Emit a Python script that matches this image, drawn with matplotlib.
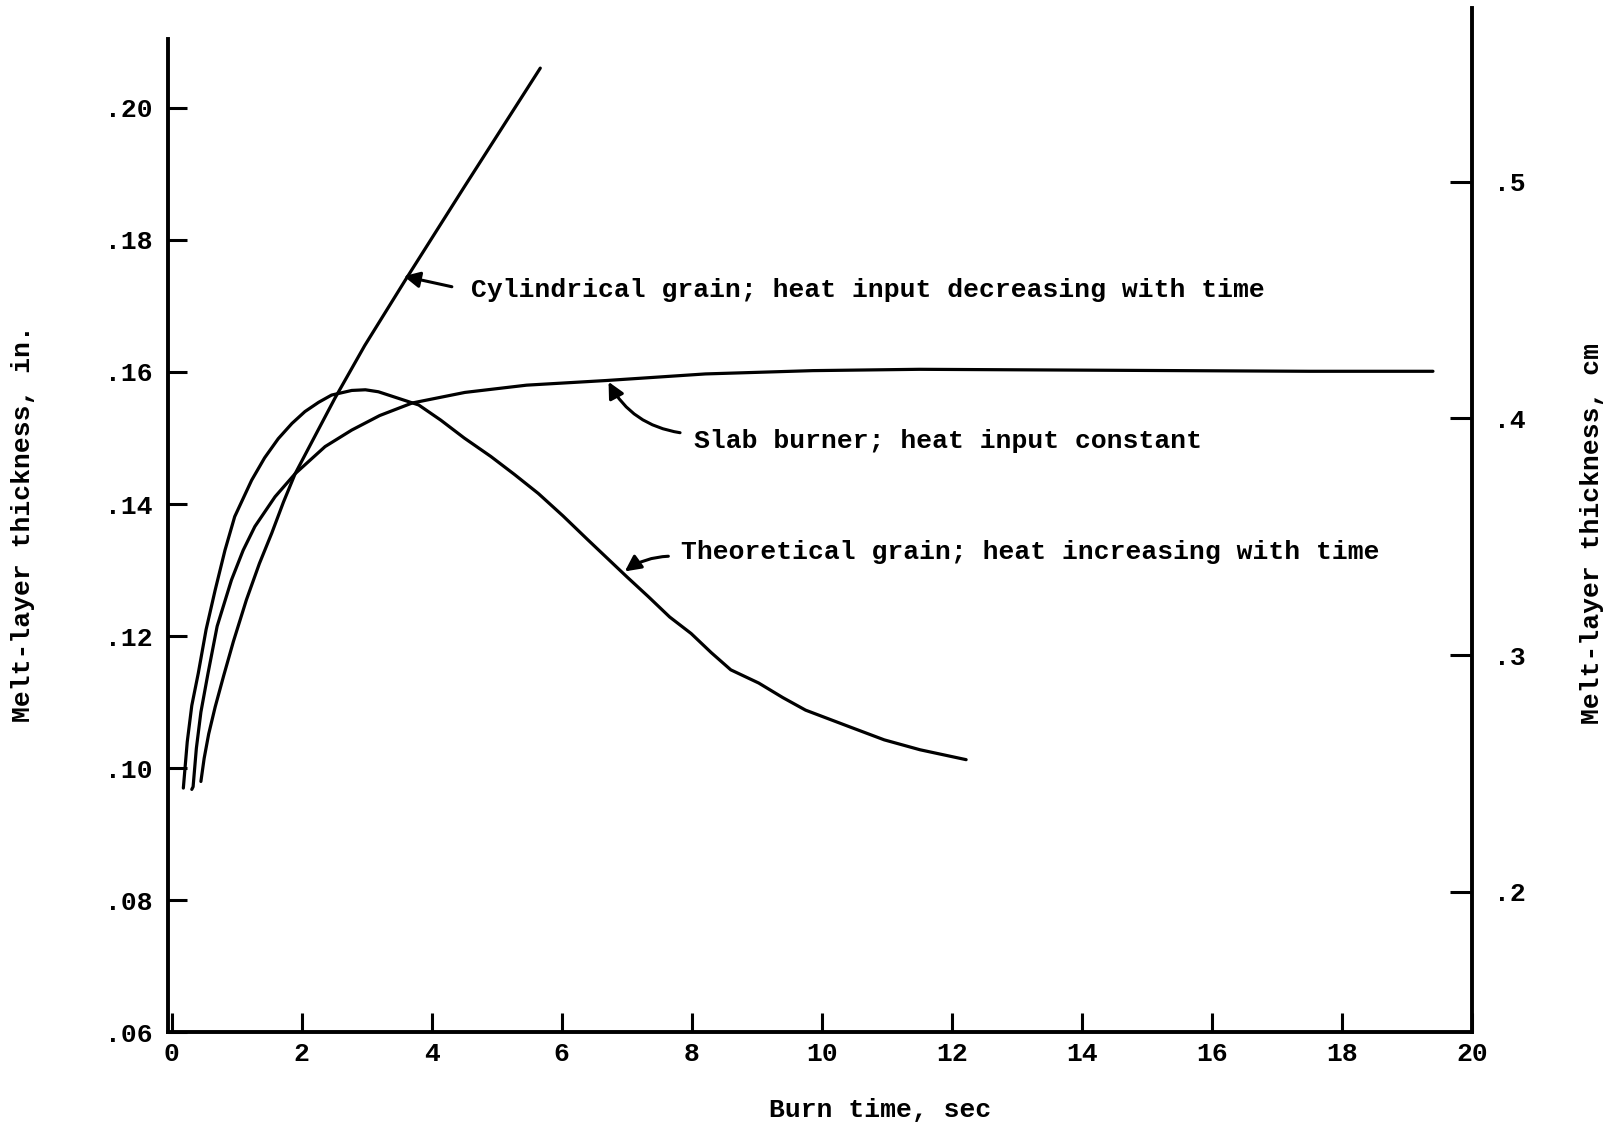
import matplotlib.pyplot as plt

# Theoretical grain; heat increasing with time
theo_t = [0.18, 0.24, 0.31, 0.41, 0.53, 0.67, 0.82, 0.97, 1.23, 1.43, 1.64, 1.85,
          2.05, 2.26, 2.46, 2.77, 2.98, 3.18, 3.49, 3.80, 4.14, 4.50, 4.91, 5.27,
          5.64, 6.02, 6.40, 7.00, 7.33, 7.66, 7.99, 8.30, 8.60, 9.03, 9.40, 9.75,
          10.42, 10.96, 11.51, 12.22]
theo_y = [0.0970, 0.1040, 0.1095, 0.1144, 0.1210, 0.1270, 0.1330, 0.1381, 0.1436, 0.1470, 0.1499, 0.1522,
          0.1540, 0.1554, 0.1565, 0.1572, 0.1573, 0.1570, 0.1560, 0.1550, 0.1527, 0.1500, 0.1472, 0.1445,
          0.1416, 0.1382, 0.1346, 0.1290, 0.1260, 0.1229, 0.1204, 0.1175, 0.1149, 0.1129, 0.1107, 0.1088,
          0.1063, 0.1043, 0.1028, 0.1013]

# Slab burner; heat input constant
slab_t = [0.31, 0.33, 0.38, 0.45, 0.56, 0.70, 0.92, 1.10, 1.28, 1.59, 1.90, 2.36,
          2.77, 3.20, 3.70, 4.51, 5.46, 6.68, 8.21, 9.86, 11.5, 13.5, 15.5, 17.5, 19.4]
slab_y = [0.0968, 0.0972, 0.1030, 0.1085, 0.1144, 0.1215, 0.1285, 0.1330, 0.1366, 0.1411, 0.1446, 0.1487,
          0.1512, 0.1534, 0.1553, 0.1569, 0.1580, 0.1587, 0.1597, 0.1602, 0.1604, 0.1603, 0.1602, 0.1601, 0.1601]

# Cylindrical grain; heat input decreasing with time
cyl_t = [0.45, 0.50, 0.57, 0.67, 0.80, 0.95, 1.15, 1.35, 1.54, 1.72, 1.90, 2.21,
         2.51, 2.97, 3.60, 4.50, 5.67]
cyl_y = [0.0980, 0.1015, 0.1052, 0.1093, 0.1140, 0.1192, 0.1255, 0.1310, 0.1356, 0.1403, 0.1446, 0.1504,
         0.1560, 0.1640, 0.1740, 0.1880, 0.2060]

time_ticks = [0, 2, 4, 6, 8, 10, 12, 14, 16, 18, 20]
in_ticks = [0.06, 0.08, 0.10, 0.12, 0.14, 0.16, 0.18, 0.20]
in_labels = ['.06', '.08', '.10', '.12', '.14', '.16', '.18', '.20']
cm_ticks = [0.2, 0.3, 0.4, 0.5]
cm_labels = ['.2', '.3', '.4', '.5']

cyl_label = 'Cylindrical grain; heat input decreasing with time'
slab_label = 'Slab burner; heat input constant'
theo_label = 'Theoretical grain; heat increasing with time'

plt.rcParams['font.family'] = ['Liberation Mono', 'DejaVu Sans Mono']
plt.rcParams['font.weight'] = 'bold'
plt.rcParams['font.size'] = 19

fig = plt.figure(figsize=(16.11, 11.28), dpi=100)
ax = fig.add_axes([0.104, 0.0847, 0.8097, 0.9082])
ax2 = ax.twinx()

lw = 2.3
ax.plot(theo_t, theo_y, color='black', lw=lw, solid_capstyle='round')
ax.plot(slab_t, slab_y, color='black', lw=lw, solid_capstyle='round')
ax.plot(cyl_t, cyl_y, color='black', lw=lw, solid_capstyle='round')

ax.set_xlim(-0.063, 20.0)
ax.set_ylim(0.06, 0.2151)
ax2.set_ylim(0.1405, 0.5735)

for side in ['top', 'right']:
    ax.spines[side].set_visible(False)
for side in ['top', 'left', 'bottom']:
    ax2.spines[side].set_visible(False)
ax.spines['left'].set_bounds(0.06, 0.2104)
ax.spines['left'].set_linewidth(2.8)
ax.spines['bottom'].set_linewidth(2.8)
ax2.spines['right'].set_linewidth(2.8)

ax.set_xticks(time_ticks)
ax.set_xticklabels([str(t) for t in time_ticks])
ax.set_yticks(in_ticks)
ax.set_yticklabels(in_labels)
ax2.set_yticks(cm_ticks)
ax2.set_yticklabels(cm_labels)

ax.tick_params(axis='both', direction='in', length=14, width=2.2)
ax.tick_params(axis='x', pad=7)
ax.tick_params(axis='y', pad=11)
ax2.tick_params(axis='y', direction='in', length=16, width=2.2, pad=16)

fig.text(22.6 / 1611, 1 - 524 / 1128, 'Melt-layer thickness, in.', rotation=90,
         ha='center', va='center')
fig.text(1592 / 1611, 1 - 534 / 1128, 'Melt-layer thickness, cm', rotation=90,
         ha='center', va='center')
fig.text(880 / 1611, 1 - 1110 / 1128, 'Burn time, sec', ha='center', va='center')

arrow = dict(arrowstyle='-|>', color='black', lw=2.2, mutation_scale=24,
             shrinkA=0, shrinkB=0)

ax.text(4.60, 0.1724, cyl_label, ha='left', va='center')
ax.annotate('', xy=(3.57, 0.1745), xytext=(4.31, 0.1729),
            arrowprops=dict(arrow, connectionstyle='arc3,rad=0'))

ax.text(8.03, 0.1495, slab_label, ha='left', va='center')
ax.annotate('', xy=(6.72, 0.1585), xytext=(7.82, 0.1508),
            arrowprops=dict(arrow, connectionstyle='arc3,rad=-0.25'))

ax.text(7.84, 0.1328, theo_label, ha='left', va='center')
ax.annotate('', xy=(6.97, 0.1298), xytext=(7.64, 0.1321),
            arrowprops=dict(arrow, connectionstyle='arc3,rad=0.15'))

fig.savefig('out.png', dpi=100, facecolor='white')
